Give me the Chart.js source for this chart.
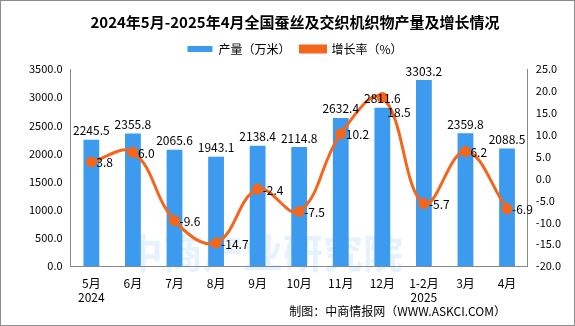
<!DOCTYPE html>
<html>
<head>
<meta charset="utf-8">
<script src="https://cdn.jsdelivr.net/npm/chart.js@4"></script>
<style>
  html, body { margin: 0; padding: 0; background: #fff; }
  #wrap { width: 573px; height: 324px; border: 1px solid #8c8c8c; position: relative; }
  canvas { display: block; }
</style>
</head>
<body>
<div id="wrap"><canvas id="c" width="573" height="324"></canvas></div>
<script>
const categories = [["5月", "2024"], "6月", "7月", "8月", "9月", "10月", "11月", "12月", ["1-2月", "2025"], "3月", "4月"];
const output = [2245.5, 2355.8, 2065.6, 1943.1, 2138.4, 2114.8, 2632.4, 2811.6, 3303.2, 2359.8, 2088.5];
const growth = [3.8, 6.0, -9.6, -14.7, -2.4, -7.5, 10.2, 18.5, -5.7, 6.2, -6.9];

const FONT = "'Noto Sans CJK SC', 'DejaVu Sans', sans-serif";
const BLUE = "#3d9bef";
const ORANGE = "#f4661b";

const labelPlugin = {
  id: "labels",
  afterDatasetsDraw(chart) {
    const ctx = chart.ctx;
    ctx.save();
    ctx.font = "12px " + FONT;
    ctx.fillStyle = "#000";
    const bars = chart.getDatasetMeta(0).data;
    bars.forEach((bar, i) => {
      ctx.textAlign = "center";
      ctx.textBaseline = "bottom";
      ctx.fillText(output[i].toFixed(1), bar.x, bar.y - 3);
    });
    chart.getDatasetMeta(1).data.forEach((pt, i) => {
      ctx.textAlign = "left";
      ctx.textBaseline = "middle";
      let y = pt.y + 1;
      // nudge down if it collides with the bar value label
      const barTop = bars[i].y - 3;
      if (y > barTop - 16 && y < barTop + 6) y = barTop + 8;
      ctx.fillText(growth[i].toFixed(1), pt.x + 5, y);
    });
    ctx.restore();
  }
};

const extraPlugin = {
  id: "extra",
  beforeInit(chart) {
    const fit = chart.legend.fit;
    chart.legend.fit = function () {
      fit.call(this);
      this.height += 4;
    };
  },
  beforeDatasetsDraw(chart) {
    const ctx = chart.ctx;
    ctx.save();
    ctx.font = "bold 40px " + FONT;
    ctx.fillStyle = "rgba(61,155,239,0.13)";
    ctx.textAlign = "center";
    ctx.textBaseline = "middle";
    ctx.fillText("中商产业研究院", 262, 252);
    ctx.restore();
  },
  afterDraw(chart) {
    const ctx = chart.ctx;
    ctx.save();
    ctx.font = "12px " + FONT;
    ctx.fillStyle = "#000";
    ctx.textAlign = "right";
    ctx.textBaseline = "middle";
    ctx.fillText("制图：中商情报网（WWW.ASKCI.COM）", 505, 310);
    ctx.restore();
  }
};

new Chart(document.getElementById("c"), {
  data: {
    labels: categories,
    datasets: [{
      type: "bar",
      label: "产量（万米）",
      data: output,
      backgroundColor: BLUE,
      barPercentage: 0.38,
      categoryPercentage: 1,
      yAxisID: "y",
      order: 2
    }, {
      type: "line",
      label: "增长率（%）",
      data: growth,
      borderColor: ORANGE,
      backgroundColor: ORANGE,
      borderWidth: 3,
      pointRadius: 4,
      pointBackgroundColor: ORANGE,
      pointBorderColor: ORANGE,
      tension: 0.4,
      yAxisID: "y1",
      order: 1
    }]
  },
  plugins: [labelPlugin, extraPlugin],
  options: {
    responsive: false,
    animation: false,
    layout: { padding: { left: 25, right: 10, top: 0, bottom: 15 } },
    plugins: {
      title: {
        display: true,
        text: "2024年5月-2025年4月全国蚕丝及交织机织物产量及增长情况",
        color: "#000",
        font: { family: FONT, size: 15, weight: "bold" },
        padding: { top: 12, bottom: 2 }
      },
      legend: {
        labels: {
          color: "#000",
          font: { family: FONT, size: 12 },
          boxWidth: 25,
          boxHeight: 6,
          padding: 10,
          sort: (a, b) => a.datasetIndex - b.datasetIndex
        }
      },
      tooltip: { enabled: false }
    },
    scales: {
      x: {
        grid: { display: false, drawTicks: true, tickLength: 5 },
        border: { color: "#888" },
        ticks: { color: "#000", font: { family: FONT, size: 12 }, maxRotation: 0, autoSkip: false, padding: 5 }
      },
      y: {
        position: "left",
        min: 0, max: 3500,
        grid: { display: false, drawTicks: true, tickLength: 5 },
        border: { color: "#888" },
        ticks: { stepSize: 500, color: "#000", font: { family: FONT, size: 11 }, callback: v => v.toFixed(1) }
      },
      y1: {
        position: "right",
        min: -20, max: 25,
        grid: { display: false, drawTicks: true, tickLength: 5 },
        border: { color: "#888" },
        ticks: { stepSize: 5, color: "#000", font: { family: FONT, size: 11 }, callback: v => v.toFixed(1) }
      }
    }
  }
});
</script>
</body>
</html>
